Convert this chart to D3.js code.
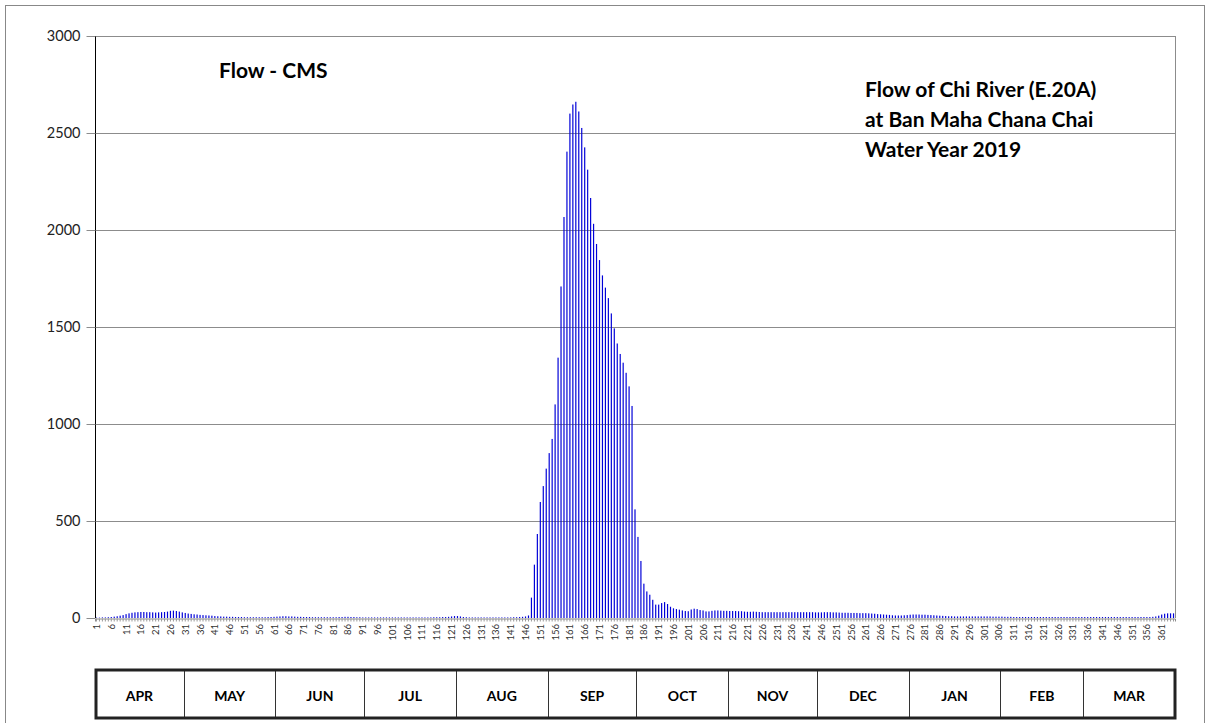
<!DOCTYPE html>
<html>
<head>
<meta charset="utf-8">
<script src="https://cdn.jsdelivr.net/npm/d3@7"></script>
<style>
  body { margin: 0; background: #fff; }
  svg text { font-family: Lato, "Open Sans", sans-serif; }
</style>
</head>
<body>
<svg id="chart" width="1210" height="723"></svg>
<script>
// daily flow (CMS), water year 2019, day 1 = 1 April
var flow = [
  2, 2, 3, 3, 4, 5, 7, 9, 12, 15,
  20, 24, 27, 29, 30, 31, 31, 30, 30, 29,
  28, 29, 30, 31, 33, 37, 38, 36, 33, 29,
  26, 23, 21, 19, 18, 16, 15, 14, 13, 12,
  10, 9, 8, 7, 7, 6, 6, 5, 5, 5,
  4, 4, 4, 4, 4, 4, 4, 4, 5, 5,
  6, 7, 8, 9, 9, 8, 8, 7, 6, 6,
  5, 5, 5, 4, 4, 4, 4, 4, 4, 4,
  4, 4, 5, 5, 6, 6, 5, 5, 4, 4,
  3, 3, 3, 3, 3, 3, 3, 3, 3, 3,
  3, 3, 3, 3, 3, 3, 3, 3, 3, 3,
  3, 3, 3, 3, 4, 4, 4, 5, 5, 6,
  8, 10, 10, 8, 5, 4, 3, 3, 3, 3,
  3, 3, 3, 3, 3, 3, 3, 3, 3, 3,
  3, 4, 4, 5, 6, 8, 13, 105, 275, 433,
  598, 680, 770, 850, 923, 1101, 1342, 1709, 2067, 2404,
  2600, 2647, 2661, 2611, 2526, 2426, 2311, 2165, 2032, 1928,
  1845, 1766, 1703, 1649, 1570, 1493, 1415, 1361, 1316, 1264,
  1194, 1093, 560, 418, 294, 177, 137, 120, 94, 69,
  69, 77, 82, 72, 58, 50, 46, 43, 39, 36,
  35, 44, 48, 46, 41, 39, 34, 34, 37, 39,
  39, 38, 37, 37, 36, 36, 36, 35, 35, 33,
  32, 32, 33, 32, 31, 30, 30, 30, 30, 30,
  30, 30, 30, 30, 30, 30, 30, 30, 30, 30,
  30, 30, 30, 29, 29, 29, 30, 30, 30, 29,
  29, 28, 27, 27, 27, 26, 26, 26, 25, 25,
  25, 24, 23, 22, 20, 19, 18, 17, 16, 14,
  13, 13, 13, 14, 15, 17, 18, 18, 18, 17,
  17, 16, 15, 14, 13, 12, 11, 10, 9, 9,
  8, 8, 8, 8, 8, 8, 8, 8, 8, 8,
  8, 8, 8, 7, 7, 7, 7, 6, 6, 6,
  5, 5, 5, 5, 5, 5, 5, 5, 5, 5,
  5, 5, 5, 5, 5, 5, 5, 5, 5, 5,
  5, 5, 5, 5, 5, 5, 5, 5, 5, 5,
  5, 5, 5, 5, 5, 5, 5, 5, 5, 5,
  5, 5, 5, 5, 5, 5, 5, 6, 8, 12,
  18, 22, 24, 24, 24
];
var days = d3.range(1, flow.length + 1);

var yTicks = [0, 500, 1000, 1500, 2000, 2500, 3000];
var months = ["APR", "MAY", "JUN", "JUL", "AUG", "SEP", "OCT", "NOV", "DEC", "JAN", "FEB", "MAR"];
var monthDays = [30, 31, 30, 31, 31, 30, 31, 30, 31, 31, 28, 31];

var title = "Flow - CMS";
var subTitle = ["Flow of Chi River (E.20A)", "at Ban Maha Chana Chai", "Water Year 2019"];

function drawChart() {
    // plot area
    var pLeft = 95, pRight = 1175, pTop = 36, pBottom = 618;

    var svg = d3.select("#chart");

    // outer frame
    svg.append("rect")
        .attr("x", 5.5).attr("y", 5.5)
        .attr("width", 1199).attr("height", 740)
        .attr("fill", "none")
        .attr("stroke", "#888")
        .attr("stroke-width", 1);

    var x = d3.scaleBand()
        .domain(days)
        .range([pLeft, pRight])
        .paddingInner(0.6)
        .paddingOuter(0.3);

    var y = d3.scaleLinear()
        .domain([0, 3000])
        .range([pBottom, pTop]);

    // gridlines
    svg.append("g")
        .selectAll("line")
        .data(yTicks.slice(1))
        .enter().append("line")
        .attr("x1", pLeft).attr("x2", pRight)
        .attr("y1", d => Math.round(y(d)) + 0.5)
        .attr("y2", d => Math.round(y(d)) + 0.5)
        .attr("stroke", "#8c8c8c")
        .attr("stroke-width", 1);

    // right border of plot
    svg.append("line")
        .attr("x1", pRight + 0.5).attr("x2", pRight + 0.5)
        .attr("y1", pTop).attr("y2", pBottom)
        .attr("stroke", "#8c8c8c");

    // bars
    svg.append("g")
        .selectAll("rect")
        .data(flow)
        .enter().append("rect")
        .attr("x", (d, i) => x(days[i]))
        .attr("width", x.bandwidth())
        .attr("y", d => y(d))
        .attr("height", d => y(0) - y(d))
        .attr("fill", "#0000d8");

    // per-day tick marks under the baseline
    svg.append("g")
        .attr("transform", "translate(0," + (Math.round(y(0)) + 0.5) + ")")
        .call(d3.axisBottom(x).tickSize(3).tickFormat(""))
        .call(g => g.select(".domain").attr("stroke", "#8c8c8c"))
        .call(g => g.selectAll(".tick line").attr("stroke", "#999"));

    // day labels every 5 days
    var labelDays = days.filter(d => (d - 1) % 5 === 0);
    svg.append("g")
        .selectAll("text")
        .data(labelDays)
        .enter().append("text")
        .attr("transform", d => "translate(" + (x(d) + x.bandwidth() / 2 + 3.5) + "," + (y(0) + 6) + ") rotate(-90)")
        .attr("text-anchor", "end")
        .attr("font-size", 9.5)
        .attr("fill", "#333")
        .text(d => d);

    // y axis
    svg.append("g")
        .attr("transform", "translate(" + (pLeft + 0.5) + ",0)")
        .call(d3.axisLeft(y).tickValues(yTicks).tickSize(9).tickPadding(6).tickFormat(d3.format("d")))
        .call(g => g.select(".domain").attr("stroke", "#000").attr("d", "M0," + pTop + "V" + pBottom))
        .call(g => g.selectAll(".tick line").attr("stroke", "#8c8c8c"))
        .call(g => g.selectAll(".tick text").attr("font-size", 14.5).attr("fill", "#222"));

    // titles
    svg.append("text")
        .attr("x", 219).attr("y", 78)
        .attr("font-size", 21)
        .attr("font-weight", "bold")
        .text(title);

    svg.append("g")
        .selectAll("text")
        .data(subTitle)
        .enter().append("text")
        .attr("x", 865)
        .attr("y", (d, i) => 97 + i * 30)
        .attr("font-size", 21)
        .attr("font-weight", "bold")
        .text(d => d);

    // month table
    var edges = [0];
    monthDays.forEach(function(n, i) { edges.push(edges[i] + n); });
    var dayX = d3.scaleLinear().domain([0, flow.length]).range([pLeft, pRight]);

    var table = svg.append("g");
    table.selectAll("line")
        .data(edges.slice(1, -1))
        .enter().append("line")
        .attr("x1", d => Math.round(dayX(d)) + 0.5)
        .attr("x2", d => Math.round(dayX(d)) + 0.5)
        .attr("y1", 670).attr("y2", 718)
        .attr("stroke", "#333")
        .attr("stroke-width", 1);

    table.append("rect")
        .attr("x", pLeft + 1).attr("y", 670)
        .attr("width", pRight - pLeft - 1).attr("height", 48)
        .attr("fill", "none")
        .attr("stroke", "#222")
        .attr("stroke-width", 3);

    table.selectAll("text")
        .data(months)
        .enter().append("text")
        .attr("x", (d, i) => dayX((edges[i] + edges[i + 1]) / 2))
        .attr("y", 701)
        .attr("text-anchor", "middle")
        .attr("font-size", 14)
        .attr("font-weight", "bold")
        .text(d => d);
}

drawChart();
</script>
</body>
</html>
